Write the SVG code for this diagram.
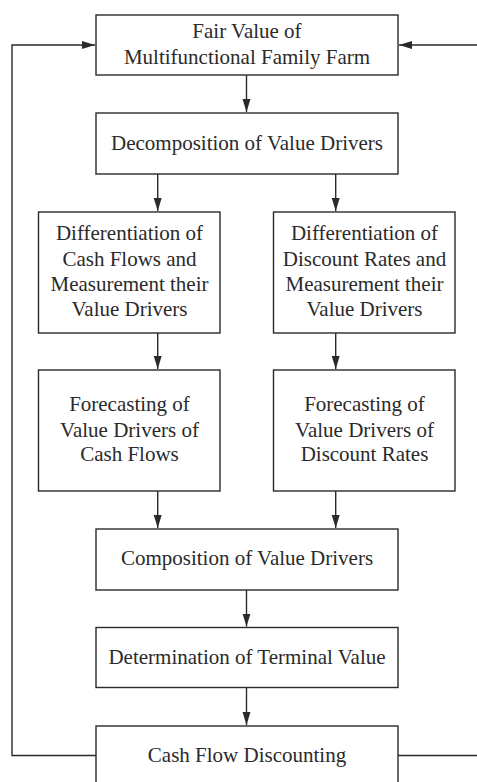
<svg xmlns="http://www.w3.org/2000/svg" width="477" height="782" viewBox="0 0 477 782">
<style>
.box{fill:#fff;stroke:#2a2a2a;stroke-width:1.4}
.t{font-family:"Liberation Serif","Times New Roman",serif;font-size:21px;fill:#2a2a2a;text-anchor:middle}
.c{fill:none;stroke:#2a2a2a;stroke-width:1.4}
</style>
<defs>
<marker id="ah" markerUnits="userSpaceOnUse" markerWidth="14" markerHeight="9" refX="13" refY="4" orient="auto">
<path d="M0,0 L13,4 L0,8 Z" fill="#2a2a2a"/>
</marker>
</defs>
<rect width="477" height="782" fill="#fff"/>
<g id="connectors">
<path class="c" d="M246.5,75 V112" marker-end="url(#ah)"/>
<path class="c" d="M157.7,174 V211" marker-end="url(#ah)"/>
<path class="c" d="M335.7,174 V211" marker-end="url(#ah)"/>
<path class="c" d="M157.7,333 V369" marker-end="url(#ah)"/>
<path class="c" d="M335.7,333 V369" marker-end="url(#ah)"/>
<path class="c" d="M157.7,491 V528" marker-end="url(#ah)"/>
<path class="c" d="M335.7,491 V528" marker-end="url(#ah)"/>
<path class="c" d="M246.5,590 V626.5" marker-end="url(#ah)"/>
<path class="c" d="M246.5,687.5 V725" marker-end="url(#ah)"/>
<path class="c" d="M96,755.5 H12 V45 H95" marker-end="url(#ah)"/>
<path class="c" d="M398,755.5 H478"/>
<path class="c" d="M478,45 H399" marker-end="url(#ah)"/>
</g>
<g id="fair-value">
<rect class="box" x="96" y="15" width="302" height="60"/>
<text class="t" x="247" y="38">Fair Value of</text>
<text class="t" x="247" y="64">Multifunctional Family Farm</text>
</g>
<g id="decomposition">
<rect class="box" x="96" y="113" width="302" height="61"/>
<text class="t" x="247" y="149.5">Decomposition of Value Drivers</text>
</g>
<g id="diff-cash">
<rect class="box" x="38.5" y="212" width="181.5" height="121"/>
<text class="t" x="129.5" y="239.5">Differentiation of</text>
<text class="t" x="129.5" y="265.5">Cash Flows and</text>
<text class="t" x="129.5" y="290.5">Measurement their</text>
<text class="t" x="129.5" y="316">Value Drivers</text>
</g>
<g id="diff-discount">
<rect class="box" x="273.5" y="212" width="181.5" height="121"/>
<text class="t" x="364.5" y="239.5">Differentiation of</text>
<text class="t" x="364.5" y="265.5">Discount Rates and</text>
<text class="t" x="364.5" y="290.5">Measurement their</text>
<text class="t" x="364.5" y="316">Value Drivers</text>
</g>
<g id="forecast-cash">
<rect class="box" x="38.5" y="370" width="181.5" height="121"/>
<text class="t" x="129.5" y="411">Forecasting of</text>
<text class="t" x="129.5" y="436.5">Value Drivers of</text>
<text class="t" x="129.5" y="461">Cash Flows</text>
</g>
<g id="forecast-discount">
<rect class="box" x="273.5" y="370" width="181.5" height="121"/>
<text class="t" x="364.5" y="411">Forecasting of</text>
<text class="t" x="364.5" y="436.5">Value Drivers of</text>
<text class="t" x="364.5" y="461">Discount Rates</text>
</g>
<g id="composition">
<rect class="box" x="96" y="529" width="302" height="61"/>
<text class="t" x="247" y="565">Composition of Value Drivers</text>
</g>
<g id="terminal">
<rect class="box" x="96" y="627.5" width="302" height="60"/>
<text class="t" x="247" y="663.5">Determination of Terminal Value</text>
</g>
<g id="discounting">
<rect class="box" x="96" y="726" width="302" height="70"/>
<text class="t" x="247" y="762">Cash Flow Discounting</text>
</g>
</svg>
